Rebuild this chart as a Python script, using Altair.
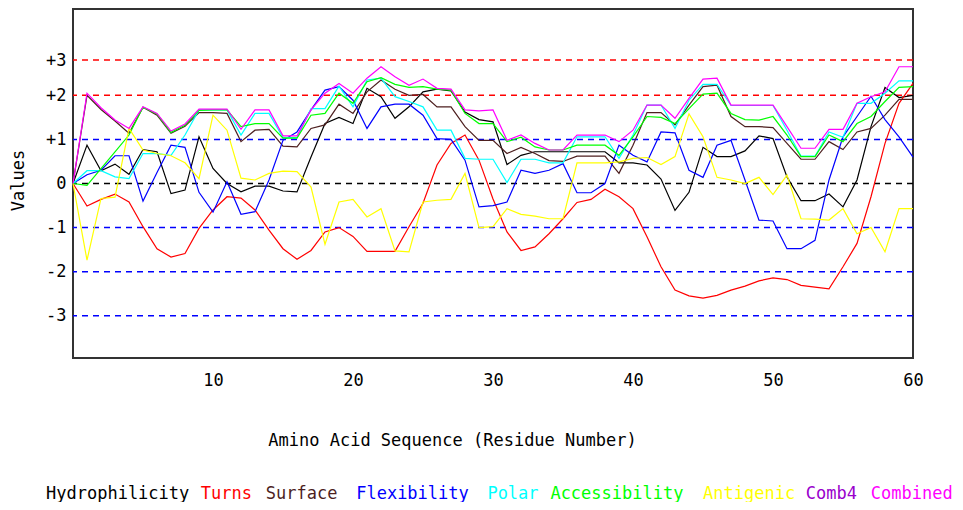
import altair as alt
import pandas as pd

residues = list(range(61))

hydrophilicity = [0, 0.87, 0.29, 0.44, 0.21, 0.77, 0.72, -0.23, -0.15, 1.06,
                  0.34, 0.0, -0.19, -0.06, -0.06, -0.17, -0.19, 0.6, 1.36, 1.5,
                  1.36, 2.16, 1.97, 1.48, 1.74, 2.08, 2.14, 2.1, 1.62, 1.45,
                  1.4, 0.43, 0.64, 0.72, 0.72, 0.72, 0.72, 0.72, 0.72, 0.47,
                  0.47, 0.42, 0.1, -0.61, -0.2, 0.82, 0.61, 0.61, 0.74, 1.08,
                  1.02, 0.15, -0.39, -0.39, -0.24, -0.53, 0.08, 1.29, 2.18, 1.95,
                  2.0]
turns = [0, -0.51, -0.36, -0.24, -0.42, -0.98, -1.48, -1.67, -1.59, -1.02,
         -0.6, -0.3, -0.33, -0.6, -1.06, -1.48, -1.72, -1.52, -1.1, -1.0,
         -1.2, -1.54, -1.54, -1.54, -0.98, -0.45, 0.42, 0.91, 1.1, 0.53,
         -0.35, -1.1, -1.52, -1.44, -1.14, -0.8, -0.43, -0.36, -0.13, -0.3,
         -0.57, -1.21, -1.89, -2.42, -2.55, -2.6, -2.54, -2.42, -2.33, -2.21,
         -2.14, -2.18, -2.31, -2.35, -2.39, -1.89, -1.36, -0.3, 0.91, 1.82,
         2.27]
surface = [0, 2.0, 1.68, 1.42, 1.14, 1.73, 1.55, 1.14, 1.3, 1.61,
           1.61, 1.59, 0.95, 1.21, 1.23, 0.85, 0.83, 1.25, 1.33, 1.8,
           1.59, 2.08, 2.35, 2.14, 2.0, 2.02, 1.74, 1.74, 1.29, 0.98,
           0.98, 0.68, 0.82, 0.68, 0.52, 0.5, 0.62, 0.62, 0.62, 0.23,
           0.87, 1.61, 1.61, 1.33, 1.78, 2.2, 2.23, 1.52, 1.29, 1.29,
           1.27, 0.91, 0.55, 0.55, 0.95, 0.77, 1.17, 1.25, 1.55, 1.91,
           1.91]
flexibility = [0, 0.2, 0.3, 0.63, 0.63, -0.4, 0.25, 0.87, 0.82, -0.2,
               -0.65, 0.04, -0.7, -0.64, 0.08, 0.98, 1.17, 1.67, 2.12, 2.2,
               1.89, 1.25, 1.74, 1.8, 1.8, 1.55, 1.02, 1.0, 0.53, -0.53,
               -0.5, -0.42, 0.3, 0.23, 0.3, 0.45, -0.21, -0.21, 0.0, 0.87,
               0.64, 0.49, 1.17, 1.15, 0.3, 0.14, 0.87, 0.98, 0.08, -0.83,
               -0.85, -1.48, -1.48, -1.29, 0.08, 1.06, 1.52, 1.98, 1.45, 1.06,
               0.6]
polar = [0, 0.29, 0.29, 0.15, 0.11, 0.68, 0.68, 0.64, 1.1, 1.67,
         1.67, 1.67, 1.1, 1.59, 1.59, 1.04, 1.04, 1.7, 1.7, 2.21,
         1.74, 2.35, 2.39, 1.97, 1.86, 1.74, 1.21, 1.21, 0.57, 0.55,
         0.55, 0.02, 0.55, 0.55, 0.47, 0.47, 1.06, 1.06, 1.06, 0.57,
         1.1, 1.78, 1.78, 1.25, 1.89, 2.25, 2.25, 1.77, 1.77, 1.77,
         1.77, 1.21, 0.62, 0.62, 1.17, 1.05, 1.82, 1.82, 2.05, 2.33,
         2.33]
accessibility = [0, -0.04, 0.34, 0.72, 1.1, 1.73, 1.58, 1.16, 1.32, 1.66,
                 1.67, 1.67, 1.29, 1.36, 1.36, 1.03, 1.03, 1.55, 1.59, 2.05,
                 1.82, 2.31, 2.4, 2.25, 2.18, 2.2, 2.14, 2.12, 1.59, 1.36,
                 1.36, 0.95, 1.05, 0.83, 0.76, 0.76, 0.87, 0.87, 0.87, 0.64,
                 1.06, 1.52, 1.5, 1.36, 1.7, 2.03, 2.05, 1.59, 1.45, 1.44,
                 1.52, 1.1, 0.61, 0.61, 1.1, 0.95, 1.36, 1.52, 1.86, 2.18,
                 2.2]
antigenic = [0, -1.74, -0.34, -0.31, 1.25, 0.76, 0.68, 0.63, 0.47, 0.11,
             1.55, 1.21, 0.12, 0.08, 0.23, 0.28, 0.27, -0.08, -1.38, -0.42,
             -0.36, -0.76, -0.57, -1.53, -1.55, -0.42, -0.38, -0.36, 0.23, -1.0,
             -0.98, -0.57, -0.7, -0.74, -0.8, -0.8, 0.47, 0.47, 0.47, 0.49,
             0.57, 0.59, 0.43, 0.61, 1.58, 1.06, 0.14, 0.08, 0.0, 0.14,
             -0.25, 0.19, -0.8, -0.81, -0.83, -0.57, -1.14, -1.0, -1.55, -0.57,
             -0.57]
combined = [0, 2.05, 1.72, 1.44, 1.25, 1.74, 1.59, 1.19, 1.35, 1.69,
            1.69, 1.69, 1.23, 1.67, 1.67, 1.08, 1.08, 1.67, 2.05, 2.27,
            2.05, 2.39, 2.65, 2.42, 2.23, 2.37, 2.16, 2.14, 1.67, 1.65,
            1.67, 0.98, 1.1, 0.91, 0.76, 0.76, 1.1, 1.1, 1.1, 0.95,
            1.21, 1.78, 1.78, 1.48, 1.93, 2.37, 2.39, 1.78, 1.78, 1.78,
            1.78, 1.29, 0.8, 0.8, 1.23, 1.23, 1.82, 1.97, 2.08, 2.65,
            2.65]

legend_names = ["Hydrophilicity", "Turns", "Surface", "Flexibility", "Polar",
                "Accessibility", "Antigenic", "Comb4", "Combined"]
legend_colors = ["#000000", "#ff0000", "#4d1f1f", "#0000ff", "#00ffff",
                 "#00ff00", "#ffff00", "#9900cc", "#ff00ff"]

series_values = {
    "Hydrophilicity": hydrophilicity,
    "Turns": turns,
    "Surface": surface,
    "Flexibility": flexibility,
    "Polar": polar,
    "Accessibility": accessibility,
    "Antigenic": antigenic,
    "Combined": combined,
}

grid_values = [2.8, 2, 1, 0, -1, -2, -3]
grid_colors = ["#ff0000", "#ff0000", "#0000ff", "#000000", "#0000ff", "#0000ff", "#0000ff"]
x_tick_values = [10, 20, 30, 40, 50, 60]

FONT = "DejaVu Sans Mono"
FS = 17
W, H = 840, 349

xs = alt.Scale(domain=[0, 60], nice=False, zero=False)
ys = alt.Scale(domain=[-3.96, 3.96], nice=False, zero=False)

y_axis = alt.Axis(
    values=grid_values,
    labelExpr="datum.value > 2.5 ? '+3' : (datum.value > 0 ? '+' + toString(datum.value) : toString(datum.value))",
    grid=False, ticks=False, domain=False, labelFlush=False, labelBound=False,
    labelFont=FONT, labelFontSize=FS, labelColor="#000000", labelPadding=7,
    title="Values", titleFont=FONT, titleFontSize=FS, titleFontWeight="normal",
    titleColor="#000000", titleAngle=270, titleX=-55, titleY=171,
    titleAlign="center", titleBaseline="middle",
)
x_axis = alt.Axis(
    values=x_tick_values, grid=False, ticks=False, domain=False,
    labelFlush=False, labelBound=False, labelOverlap=False,
    labelFont=FONT, labelFontSize=FS, labelColor="#000000", labelPadding=14,
    title="Amino Acid Sequence (Residue Number)", titleFont=FONT,
    titleFontSize=FS, titleFontWeight="normal", titleColor="#000000",
    titleX=379, titleY=82, titleAlign="center", titleBaseline="middle",
)

grid_df = pd.DataFrame({"value": grid_values, "c": grid_colors})
grid = alt.Chart(grid_df).mark_rule(strokeDash=[6, 5], strokeWidth=1.5).encode(
    y=alt.Y("value:Q", scale=ys, axis=y_axis),
    color=alt.Color("c:N", scale=None),
)

layers = [grid]
for name, color in zip(legend_names, legend_colors):
    if name not in series_values:
        continue
    d = pd.DataFrame({"residue": residues, "value": series_values[name]})
    layers.append(
        alt.Chart(d).mark_line(color=color, strokeWidth=1.2).encode(
            x=alt.X("residue:Q", scale=xs, axis=x_axis),
            y=alt.Y("value:Q", scale=ys, axis=y_axis),
        )
    )

# legend row (coloured words), laid out from word lengths
char_w = 10.2
gaps = [12, 14, 19, 19, 12, 20, 11, 14]
start_x = 46 - 73
pos = start_x
for i, (name, color) in enumerate(zip(legend_names, legend_colors)):
    td = pd.DataFrame({"t": [name]})
    layers.append(
        alt.Chart(td).mark_text(
            x=pos, y=485, align="left", baseline="middle", font=FONT,
            fontSize=FS, color=color,
        ).encode(text="t:N")
    )
    if i < len(gaps):
        pos += len(name) * char_w + gaps[i]

chart = alt.layer(*layers).properties(
    width=W, height=H,
    autosize=alt.AutoSizeParams(type="none"),
    padding={"left": 65, "top": 1, "right": 42, "bottom": 144},
    background="#ffffff",
).configure_view(stroke="#333333", strokeWidth=2)

chart.save("out.html", embed_options={"renderer": "svg", "actions": False})
